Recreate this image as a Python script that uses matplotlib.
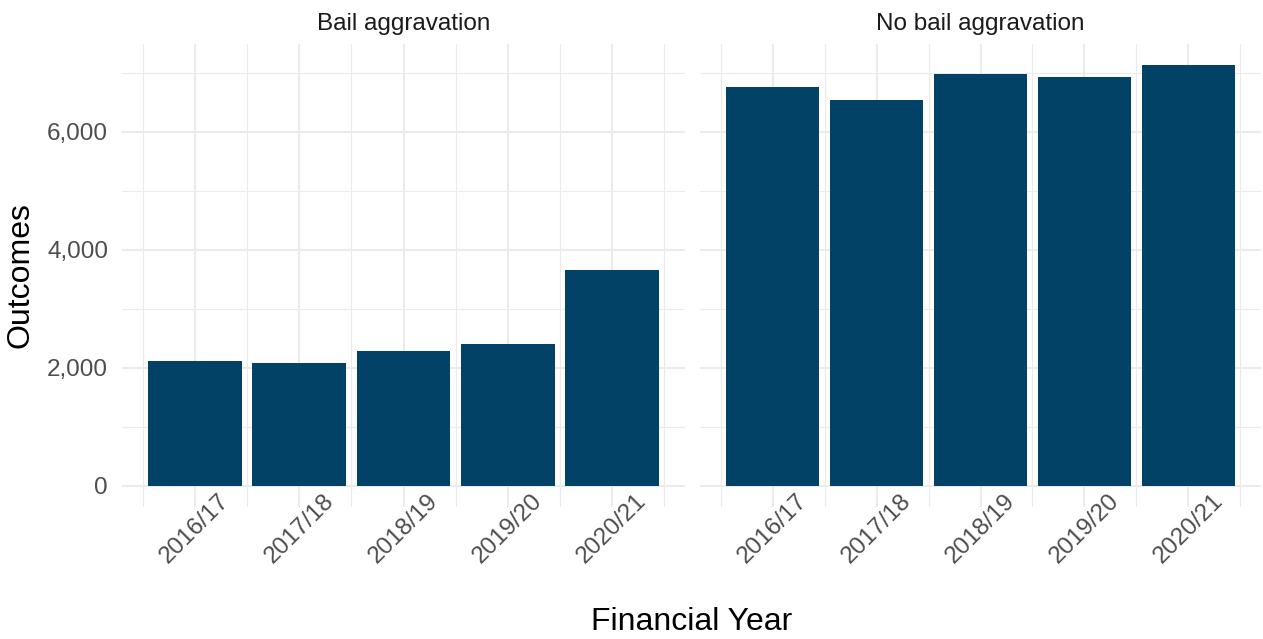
import matplotlib
matplotlib.use("Agg")
import matplotlib.pyplot as plt
from matplotlib.ticker import FuncFormatter, MultipleLocator
import numpy as np

plt.rcParams['font.family'] = ['Liberation Sans', 'DejaVu Sans']

# data
years = ["2016/17", "2017/18", "2018/19", "2019/20", "2020/21"]
panels = ["Bail aggravation", "No bail aggravation"]
bail_agg = [2119, 2080, 2288, 2412, 3667]
no_bail_agg = [6768, 6542, 6977, 6932, 7132]

bar_col = "#024266"
grid_col = "#EBEBEB"

fig = plt.figure(figsize=(12.63, 6.39), dpi=100)
W, H = 1263, 639
top, bot = 44, 507
ax1 = fig.add_axes([122 / W, (H - bot) / H, 563 / W, (bot - top) / H])
ax2 = fig.add_axes([700 / W, (H - bot) / H, 561 / W, (bot - top) / H], sharey=ax1)

ymax = max(no_bail_agg)
x = np.arange(len(years))

for ax, vals, name in zip([ax1, ax2], [bail_agg, no_bail_agg], panels):
    ax.bar(x, vals, width=0.9, color=bar_col, zorder=3)
    ax.set_xlim(-0.7, len(years) - 0.3)
    ax.set_ylim(-0.05 * ymax, 1.05 * ymax)
    ax.set_xticks(x)
    ax.set_xticklabels(years)
    ax.xaxis.set_minor_locator(MultipleLocator(0.5))
    ax.yaxis.set_major_locator(MultipleLocator(2000))
    ax.yaxis.set_minor_locator(MultipleLocator(1000))
    ax.grid(which='major', color=grid_col, lw=1.5, zorder=0)
    ax.grid(which='minor', color=grid_col, lw=0.8, zorder=0)
    ax.set_axisbelow(True)
    for s in ax.spines.values():
        s.set_visible(False)
    ax.tick_params(which='both', length=0)
    ax.tick_params(axis='x', labelrotation=45, pad=-12.2, labelsize=17.5,
                   labelcolor='#4D4D4D')
    ax.tick_params(axis='y', pad=10, labelsize=17.5, labelcolor='#4D4D4D')
    ax.set_title(name, fontsize=17.5, color='#1A1A1A', pad=10)

ax1.yaxis.set_major_formatter(FuncFormatter(lambda v, p: f"{int(v):,}"))
ax2.tick_params(axis='y', labelleft=False)

fig.text(21 / W, 1 - 275 / H, "Outcomes", rotation=90, fontsize=23,
         ha='center', va='center')
fig.text(692 / W, 1 - 622 / H, "Financial Year", fontsize=23,
         ha='center', va='center')

fig.savefig("out.png", dpi=100, facecolor='white')
